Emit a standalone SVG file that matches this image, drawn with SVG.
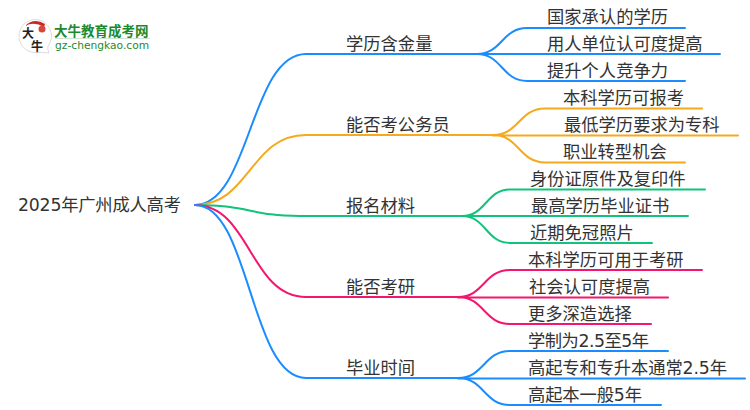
<svg xmlns="http://www.w3.org/2000/svg" width="750" height="410" viewBox="0 0 750 410">
<style>
text{font-family:"DejaVu Sans","Noto Sans CJK SC",sans-serif;font-size:17.3px;fill:#333}
.c{fill:none;stroke-width:2;stroke-linecap:round}
.b{stroke:#1a8cff}.o{stroke:#f5a91c}.g{stroke:#0fc47a}.p{stroke:#f5146e}
</style>
<g id="logo">
<path d="M36 19.500A16.500 16.500 0 0 0 35 52.500Q42 52 49 53Q47 49 48 46A16.500 16.500 0 0 0 36 19.500Z" fill="#fff" stroke="#ddd"/>
<path d="M25 26Q34 17 45 24L44 27Q34 21 25 26Z" fill="#c8281e"/>
<circle cx="42" cy="29" r="3.500" fill="#d9473c"/>
<text x="22" y="38" style="font-size:12px;fill:#222;font-weight:700">大</text>
<text x="31" y="51" style="font-size:12px;fill:#222;font-weight:700">牛</text>
<text x="54" y="35.500" style="font-size:13.500px;fill:#1e8a2e;font-weight:700">大牛教育成考网</text>
<rect x="55" y="38" width="95" height="1" fill="#cfe3d2"/>
<text x="55" y="49" style="font-size:10.700px;fill:#1e8a2e">gz-chengkao.com</text>
</g>
<g id="connectors">
<path class="c b" d="M195 205C250 205 250 54 306 54H477"/>
<path class="c o" d="M195 205C250 205 250 135 306 135H493"/>
<path class="c g" d="M195 205C250 205 250 216 300 216H462"/>
<path class="c p" d="M195 205C250 205 250 297 306 297H458"/>
<path class="c b" d="M195 205C250 205 250 378 306 378H458"/>
<path class="c b" d="M477 54C502 54 502 28 527 28H685M477 54H720M477 54C502 54 502 81 527 81H685"/>
<path class="c o" d="M493 135C519 135 519 108.500 545 108.500H702M493 135.500H738M493 135C519 135 519 162.500 545 162.500H685"/>
<path class="c g" d="M462 216C486 216 486 189.500 510 189.500H705M462 216H688M462 216C486 216 486 243 510 243H652"/>
<path class="c p" d="M458 297C484 297 484 270 510 270H702M458 297.500H668M458 297C484 297 484 324 510 324H651"/>
<path class="c b" d="M458 378C484 378 484 351 510 351H668M458 378.500H745M458 378C484 378 484 405 510 405H661"/>
</g>
<g id="root"><text x="18" y="211" textLength="163">2025年广州成人高考</text></g>
<g id="n1"><text x="346" y="50">学历含金量</text></g>
<g id="n2"><text x="346" y="131">能否考公务员</text></g>
<g id="n3"><text x="346" y="212">报名材料</text></g>
<g id="n4"><text x="346" y="293">能否考研</text></g>
<g id="n5"><text x="346" y="374">毕业时间</text></g>
<g id="l1"><text x="547" y="23">国家承认的学历</text></g>
<g id="l2"><text x="547" y="50">用人单位认可度提高</text></g>
<g id="l3"><text x="547" y="77">提升个人竞争力</text></g>
<g id="l4"><text x="563" y="104">本科学历可报考</text></g>
<g id="l5"><text x="564" y="131">最低学历要求为专科</text></g>
<g id="l6"><text x="563" y="158">职业转型机会</text></g>
<g id="l7"><text x="530" y="185">身份证原件及复印件</text></g>
<g id="l8"><text x="531" y="212">最高学历毕业证书</text></g>
<g id="l9"><text x="530" y="239">近期免冠照片</text></g>
<g id="l10"><text x="528" y="266">本科学历可用于考研</text></g>
<g id="l11"><text x="529" y="293">社会认可度提高</text></g>
<g id="l12"><text x="528" y="320">更多深造选择</text></g>
<g id="l13"><text x="528" y="347" textLength="121">学制为2.5至5年</text></g>
<g id="l14"><text x="528" y="374" textLength="199">高起专和专升本通常2.5年</text></g>
<g id="l15"><text x="528" y="401" textLength="114">高起本一般5年</text></g>
</svg>
